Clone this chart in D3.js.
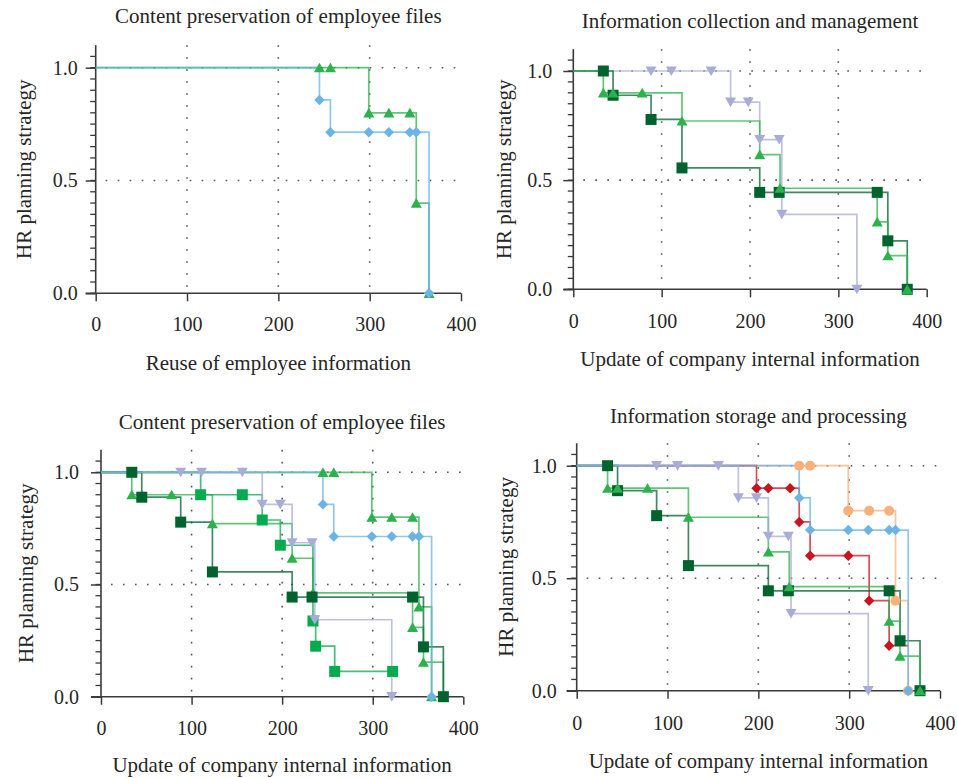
<!DOCTYPE html>
<html>
<head>
<meta charset="utf-8">
<script src="https://cdn.jsdelivr.net/npm/d3@7"></script>
<style>
  body { margin: 0; background: #fff; }
  svg { display: block; }
  text { font-family: "Liberation Serif", "Times New Roman", serif; fill: #262626; }
</style>
</head>
<body>
<svg id="chart" width="957" height="778"></svg>
<script>
// ---- event times and survival estimates per group ----
const fileT = [245, 257, 299, 321, 344, 351, 365];
const fileS = [1, 1, 0.8, 0.8, 0.8, 0.4, 0];

const reuseT = [245, 257, 299, 321, 344, 351, 365];
const reuseS = [0.857, 0.714, 0.714, 0.714, 0.714, 0.714, 0];

const collectT = [88, 111, 156, 178, 198, 211, 233, 236, 321];
const collectS = [1, 1, 1, 0.857, 0.857, 0.686, 0.686, 0.343, 0];

const manageT = [34, 45, 88, 123, 211, 233, 344, 356, 378];
const manageS = [1, 0.889, 0.778, 0.556, 0.444, 0.444, 0.444, 0.222, 0];

const updateT = [34, 45, 78, 123, 211, 234, 344, 356, 378];
const updateS = [0.9, 0.9, 0.9, 0.771, 0.617, 0.463, 0.309, 0.154, 0];

const archiveT = [110, 156, 178, 198, 234, 237, 258, 322];
const archiveS = [0.9, 0.9, 0.7875, 0.675, 0.3375, 0.225, 0.1125, 0.1125];

const storeT = [245, 257, 299, 322, 344, 351, 365];
const storeS = [1, 1, 0.8, 0.8, 0.8, 0.4, 0];

const processT = [198, 211, 235, 245, 257, 299, 322, 344];
const processS = [0.9, 0.9, 0.9, 0.75, 0.6, 0.6, 0.4, 0.2];
const processEnd = 365;

// ---- axis ticks and labels ----
const xTicks = [0, 100, 200, 300, 400];
const yMajor = [0, 0.5, 1.0];
const yTickLabels = ["0.0", "0.5", "1.0"];
const yGrid = [0.5, 1.0];
const xGrid = [100, 200, 300];
const yLabel = "HR planning strategy";

const titles = [
  "Content preservation of employee files",
  "Information collection and management",
  "Content preservation of employee files",
  "Information storage and processing"
];
const xLabels = [
  "Reuse of employee information",
  "Update of company internal information",
  "Update of company internal information",
  "Update of company internal information"
];

// ---- series styling ----
const series = {
  file:    { t: fileT,    s: fileS,    color: "#2bb24c", shape: "triUp" },
  reuse:   { t: reuseT,   s: reuseS,   color: "#6ab4e6", shape: "diamond" },
  collect: { t: collectT, s: collectS, color: "#a9acd9", shape: "triDown" },
  manage:  { t: manageT,  s: manageS,  color: "#00622d", shape: "square" },
  update:  { t: updateT,  s: updateS,  color: "#2bb24c", shape: "triUp" },
  archive: { t: archiveT, s: archiveS, color: "#07aa4f", shape: "square" },
  store:   { t: storeT,   s: storeS,   color: "#f9b07a", shape: "circle" },
  process: { t: processT, s: processS, color: "#c8141f", shape: "diamond", end: processEnd }
};

// ---- panel placement ----
const panels = [
  { left: 95.7, right: 461, y0: 293.3, y1: 67.7, titleY: 22.7, xLabelY: 370, yLabelX: 31, tickY: 331.7, tickGap: 18,
    keys: ["file", "reuse"] },
  { left: 573.3, right: 926.7, y0: 289.3, y1: 71, titleY: 28, xLabelY: 366, yLabelX: 511, tickY: 328.3, tickGap: 21,
    keys: ["collect", "manage", "update"] },
  { left: 101, right: 463.3, y0: 696.7, y1: 472.3, titleY: 429.3, xLabelY: 772.3, yLabelX: 33, tickY: 735, tickGap: 22,
    keys: ["file", "update", "archive", "manage", "collect", "reuse"] },
  { left: 576.7, right: 940, y0: 690.7, y1: 465.7, titleY: 423.3, xLabelY: 767.7, yLabelX: 513, tickY: 730, tickGap: 20,
    keys: ["store", "process", "manage", "update", "collect", "reuse"] }
];

const labelSize = "21px";
const tickSize = "20px";

function markerPath(shape) {
  switch (shape) {
    case "square":  return "M-5.5,-5.5h11v11h-11Z";
    case "triUp":   return "M0,-5L5.5,4.6L-5.5,4.6Z";
    case "triDown": return "M0,5L5.5,-4.6L-5.5,-4.6Z";
    case "diamond": return "M0,-5.2L5.2,0L0,5.2L-5.2,0Z";
    case "circle":  return d3.symbol(d3.symbolCircle, Math.PI * 25)();
  }
}

const svg = d3.select("#chart");
const axisColor = "#3a3a3a";

panels.forEach((p, i) => {
  const x = d3.scaleLinear().domain([0, 400]).range([p.left, p.right]);
  const y = d3.scaleLinear().domain([0, 1]).range([p.y0, p.y1]);
  const yTop = 1.1;
  const g = svg.append("g");

  // dotted grid
  g.selectAll(".vgrid").data(xGrid).join("line")
    .attr("x1", d => x(d)).attr("x2", d => x(d))
    .attr("y1", y(yTop)).attr("y2", y(0))
    .attr("stroke", "#555").attr("stroke-width", 1.6)
    .attr("stroke-dasharray", "1.6,10.4");
  g.selectAll(".hgrid").data(yGrid).join("line")
    .attr("x1", x(0) + 10).attr("x2", x(400))
    .attr("y1", d => y(d)).attr("y2", d => y(d))
    .attr("stroke", "#555").attr("stroke-width", 1.6)
    .attr("stroke-dasharray", "1.6,10.4");

  // y axis with major and minor ticks
  const yAxis = g.append("g").attr("transform", `translate(${x(0)},0)`)
    .call(d3.axisLeft(y).tickValues(yMajor).tickSize(10).tickPadding(p.tickGap - 10)
      .tickFormat((d, k) => yTickLabels[k]));
  yAxis.select(".domain").remove();
  yAxis.selectAll(".tick line").attr("stroke", axisColor).attr("stroke-width", 1.5);
  yAxis.selectAll("text").style("font-size", tickSize).attr("fill", "#262626")
    .style("font-family", "Liberation Serif, serif");
  const minor = d3.range(0, 22).map(k => k * 0.05);
  g.selectAll(".minor").data(minor).join("line")
    .attr("x1", x(0) - 5.5).attr("x2", x(0))
    .attr("y1", d => y(d)).attr("y2", d => y(d))
    .attr("stroke", axisColor).attr("stroke-width", 1.3);
  g.append("line")
    .attr("x1", x(0)).attr("x2", x(0))
    .attr("y1", y(yTop)).attr("y2", y(0))
    .attr("stroke", axisColor).attr("stroke-width", 1.6);

  // x axis
  const xAxis = g.append("g").attr("transform", `translate(0,${y(0)})`)
    .call(d3.axisBottom(x).tickValues(xTicks).tickSize(8).tickPadding(p.tickY - y(0) - 8 - 14.5)
      .tickFormat(d3.format("d")));
  xAxis.select(".domain").remove();
  xAxis.selectAll(".tick line").attr("stroke", axisColor).attr("stroke-width", 1.5);
  xAxis.selectAll("text").style("font-size", tickSize).attr("fill", "#262626")
    .style("font-family", "Liberation Serif, serif");
  g.append("line")
    .attr("x1", x(0) - 10).attr("x2", x(400))
    .attr("y1", y(0)).attr("y2", y(0))
    .attr("stroke", axisColor).attr("stroke-width", 1.6);

  // step curves
  const line = d3.line().x(d => x(d[0])).y(d => y(d[1])).curve(d3.curveStepAfter);
  p.keys.forEach(k => {
    const s = series[k];
    const pts = [[0, 1]].concat(s.t.map((t, j) => [t, s.s[j]]));
    if (s.end !== undefined) pts.push([s.end, s.s[s.s.length - 1]]);
    g.append("path").datum(pts)
      .attr("d", line)
      .attr("fill", "none")
      .attr("stroke", s.color)
      .attr("stroke-opacity", 0.75)
      .attr("stroke-width", 1.7);
  });

  // markers on top
  p.keys.forEach(k => {
    const s = series[k];
    g.append("g").selectAll("path").data(s.t.map((t, j) => [t, s.s[j]])).join("path")
      .attr("d", markerPath(s.shape))
      .attr("transform", d => `translate(${x(d[0])},${y(d[1])})`)
      .attr("fill", s.color);
  });

  // texts
  const cx = (p.left + p.right) / 2;
  g.append("text").attr("x", cx).attr("y", p.titleY)
    .attr("text-anchor", "middle").style("font-size", labelSize).text(titles[i]);
  g.append("text").attr("x", cx).attr("y", p.xLabelY)
    .attr("text-anchor", "middle").style("font-size", labelSize).text(xLabels[i]);
  g.append("text")
    .attr("transform", `translate(${p.yLabelX},${(y(yTop) + y(0)) / 2}) rotate(-90)`)
    .attr("text-anchor", "middle").style("font-size", labelSize).text(yLabel);
});
</script>
</body>
</html>
